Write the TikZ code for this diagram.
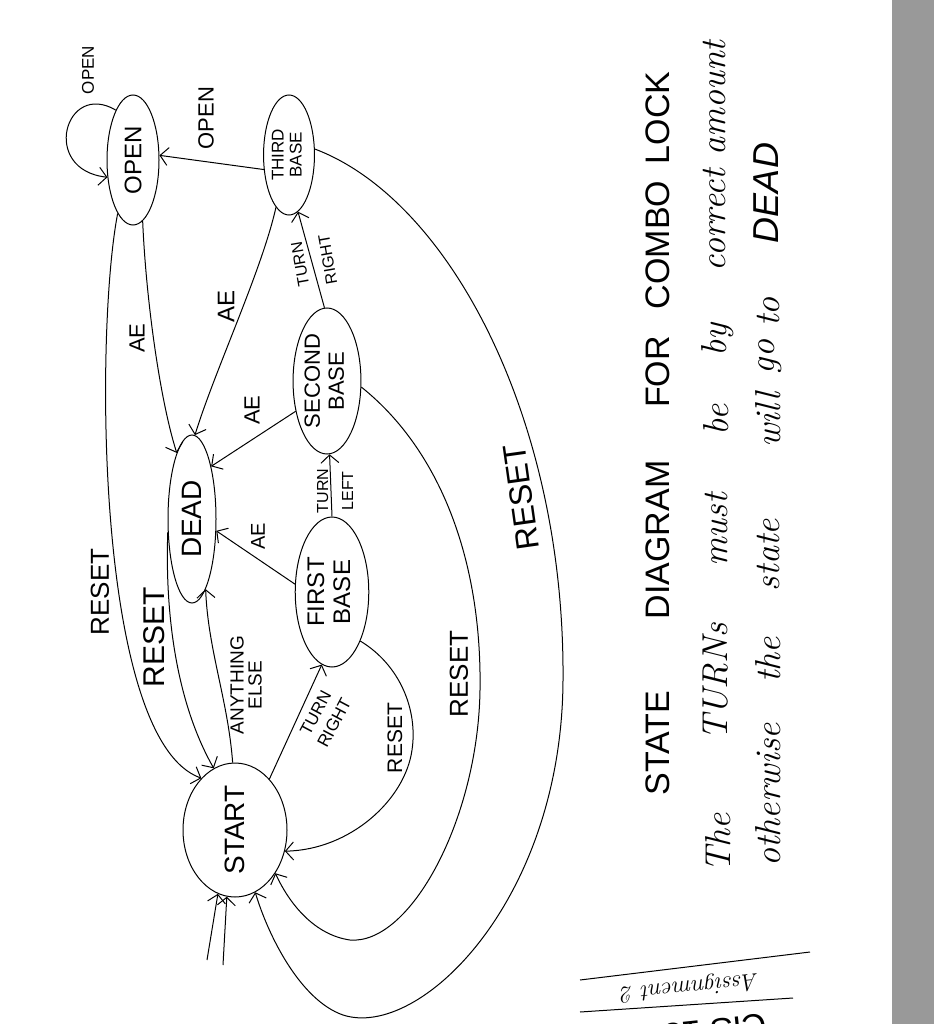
\documentclass[tikz,border=0pt]{standalone}
\usepackage{fontspec}
\usepackage{graphicx}
\usetikzlibrary{arrows.meta,shapes.geometric}
\newfontfamily\capsf{Liberation Sans}
\newcommand{\fsz}[1]{\fontsize{#1}{#1}\selectfont}
\newcommand{\fszb}[2]{\fontsize{#1}{#2}\selectfont}
\definecolor{barGray}{RGB}{153,153,153}
\begin{document}
\begin{tikzpicture}[x=1pt,y=-1pt,
  st/.style={draw, ellipse, line width=1pt, inner sep=0pt},
  lab/.style={rotate=90, inner sep=0pt, align=center},
  hand/.style={rotate=90, inner sep=0pt},
  edge/.style={line width=1pt, -{Straight Barb[length=8pt,width=18pt,line width=1pt]}},
  plain/.style={line width=1pt}]
\useasboundingbox (0,0) rectangle (934,1024);
\fill[white] (0,0) rectangle (934,1024);
\fill[barGray] (892,0) rectangle (934,1024);

% states
\node[st, minimum width=52pt, minimum height=130pt] (open) at (133,160) {\rotatebox{90}{\capsf\fsz{24}OPEN}};
\node[st, minimum width=44pt, minimum height=120pt] (third) at (289,155) {\rotatebox{90}{\capsf\fszb{17}{18}\begin{tabular}{@{}c@{}}THIRD\\BASE\end{tabular}}};
\node[st, minimum width=61pt, minimum height=146pt] (second) at (327,381) {\rotatebox{90}{\capsf\fszb{22}{24}\begin{tabular}{@{}c@{}}SECOND\\BASE\end{tabular}}};
\node[st, minimum width=68pt, minimum height=150pt] (first) at (332,592) {\rotatebox{90}{\capsf\fszb{24}{26}\begin{tabular}{@{}c@{}}FIRST\\BASE\end{tabular}}};
\node[st, minimum width=48pt, minimum height=168pt] (dead) at (192,519) {\rotatebox{90}{\capsf\fsz{28}DEAD}};
\node[st, minimum width=104pt, minimum height=134pt] (start) at (235,830) {\rotatebox{90}{\capsf\fsz{28}START}};

% self loop on OPEN
\draw[edge] (open.109) .. controls (65,80) and (40,170) .. (open.214);
\node[lab, font=\capsf\fsz{17}] (lopen) at (88,70) {OPEN};

% THIRD -> OPEN
\draw[edge] (third.210) -- (open.10);
\node[lab, font=\capsf\fsz{22}] (lopen2) at (206,118) {OPEN};

% AE edges to DEAD
\draw[edge] (open.279) .. controls (146,300) and (160,400) .. (dead.103);
\node[lab, font=\capsf\fsz{22}] (ae1) at (137,338) {AE};
\draw[edge] (third.256) .. controls (262,270) and (215,370) .. (dead.88);
\node[lab, font=\capsf\fsz{24}] (ae2) at (226,306) {AE};
\draw[edge] (second.224) -- (dead.70);
\node[lab, font=\capsf\fsz{22}] (ae3) at (252,410) {AE};
\draw[edge] (first.168) -- (dead.334);
\node[lab, font=\capsf\fsz{20}] (ae4) at (258,536) {AE};

% FIRST -> SECOND, SECOND -> THIRD
\draw[edge] (first.90) -- (second.272);
\node[lab, font=\capsf\fszb{16}{25}] (ltl) at (335,491) {TURN\\LEFT};
\draw[edge] (second.92) -- (third.279);
\node[rotate=100, inner sep=0pt, align=center, font=\capsf\fszb{16}{28}] (ltr) at (314,262) {TURN\\RIGHT};

% START -> DEAD
\draw[edge] (start.92) .. controls (228,700) and (208,650) .. (dead.281);
\node[lab, font=\capsf\fszb{19}{18}] (lany) at (246,685) {ANYTHING\\ELSE};

% START -> FIRST
\draw[edge] (start.56) -- (first.262);
\node[rotate=62, inner sep=0pt, align=center, font=\capsf\fszb{17}{21}] (ltr2) at (325,718) {TURN\\RIGHT};

% RESET edges
\draw[edge] (dead.208) .. controls (165,610) and (175,700) .. (start.109);
\node[lab, font=\capsf\fsz{30}] (r2) at (154,637) {RESET};
\draw[edge] (open.254) .. controls (95,330) and (95,740) .. (start.123);
\node[lab, font=\capsf\fsz{26}] (r1) at (100,592) {RESET};
\draw[edge] (first.300) .. controls (400,665) and (418,710) .. (412,750)
            .. controls (405,800) and (350,850) .. (start.337);
\node[lab, font=\capsf\fsz{21}] (r3) at (395,738) {RESET};
\draw[edge] (second.350) .. controls (440,450) and (482,560) .. (480,690)
            .. controls (478,820) and (410,945) .. (350,940)
            .. controls (315,935) and (290,905) .. (start.313);
\node[lab, font=\capsf\fsz{26}] (r4) at (459,674) {RESET};
\draw[edge] (third.13) .. controls (450,200) and (565,420) .. (563,680)
            .. controls (562,900) and (420,1040) .. (343,1015)
            .. controls (300,1000) and (268,935) .. (start.288);
\node[rotate=98, inner sep=0pt, font=\capsf\fsz{32}] (r5) at (521,497) {RESET};

% initial arrows
\coordinate (in1) at (207,960);
\coordinate (in2) at (223,965);
\draw[edge] (in1) -- (start.255);
\draw[edge] (in2) -- (start.263);

% title text
\begin{scope}[every node/.style={hand, font=\capsf\fsz{34}}]
\node (t1) at (658,743) {STATE};
\node (t2) at (658,540) {DIAGRAM};
\node (t3) at (658,372) {FOR};
\node (t4) at (658,245) {COMBO};
\node (t5) at (658,118) {LOCK};
\end{scope}
\begin{scope}[every node/.style={hand, font=\itshape\fsz{36}}]
\node (a1) at (718,843) {The};
\node (a2) at (716,682) {TURNs};
\node (a3) at (716,530) {must};
\node (a4) at (716,420) {be};
\node (a5) at (718,340) {by};
\node (a6) at (714,220) {correct};
\node (a7) at (714,98) {amount};
\node (b1) at (768,795) {otherwise};
\node (b2) at (768,660) {the};
\node (b3) at (768,555) {state};
\node (b4) at (768,420) {will};
\node (b5) at (770,357) {go};
\node (b6) at (768,312) {to};
\node (b7) at (766,193) {\capsf DEAD};
\end{scope}

% bottom signature
\coordinate (s1a) at (580,980);
\coordinate (s1b) at (810,952);
\coordinate (s2a) at (580,1012);
\coordinate (s2b) at (793,998);
\draw[plain] (s1a) -- (s1b);
\draw[plain] (s2a) -- (s2b);
\node[rotate=186, inner sep=0pt, font=\itshape\fsz{24}] (asg) at (690,987) {Assignment 2};
\begin{scope}
\clip (0,0) rectangle (934,1024);
\node[rotate=186, inner sep=0pt, font=\capsf\fsz{34}] (cis) at (706,1032) {CIS 151};
\end{scope}
\end{tikzpicture}
\end{document}
